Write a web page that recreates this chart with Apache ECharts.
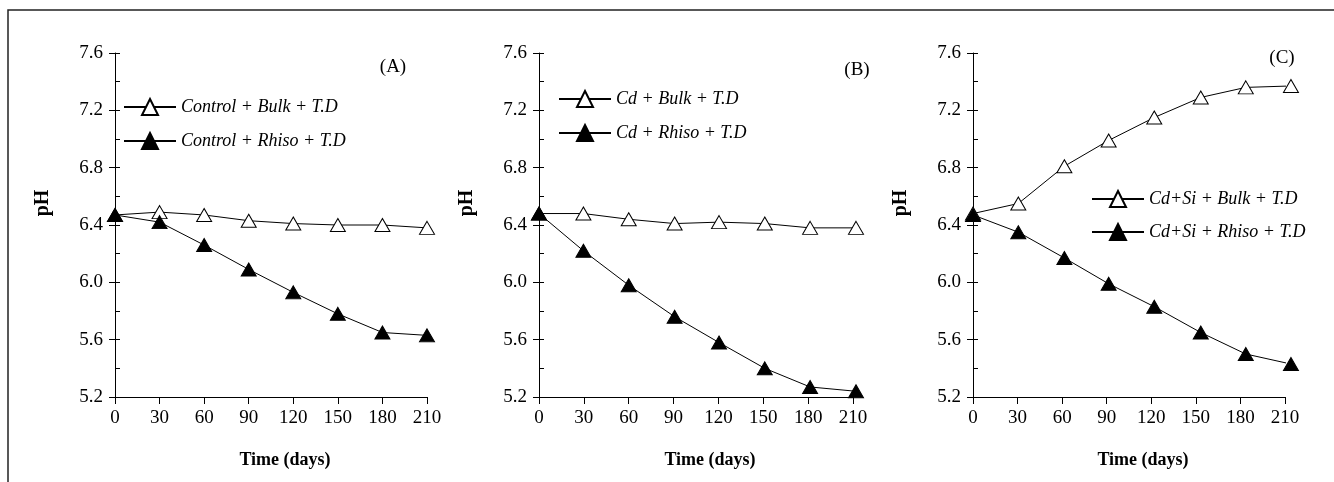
<!DOCTYPE html>
<html>
<head>
<meta charset="utf-8">
<script src="https://cdn.jsdelivr.net/npm/echarts@6/dist/echarts.min.js"></script>
<style>
  html, body { margin: 0; padding: 0; background: #fff; }
  #main { width: 1334px; height: 482px; }
</style>
</head>
<body>
<div id="main"></div>
<script>
// values (pH against time in days)
var daysA = [0, 30, 60, 90, 120, 150, 180, 210];
var bulkA = [6.47, 6.49, 6.47, 6.43, 6.41, 6.40, 6.40, 6.38];
var rhisoA = [6.47, 6.42, 6.26, 6.09, 5.93, 5.78, 5.65, 5.63];

var daysB = [0, 29.7, 60, 90.7, 120.4, 151, 181.3, 212];
var bulkB = [6.48, 6.48, 6.44, 6.41, 6.42, 6.41, 6.38, 6.38];
var rhisoB = [6.48, 6.22, 5.98, 5.76, 5.58, 5.40, 5.27, 5.24];

var daysC = [0, 30.5, 61.5, 91.3, 122, 153.3, 183.6, 214];
var bulkC = [6.48, 6.55, 6.81, 6.99, 7.15, 7.29, 7.36, 7.37];
var rhisoC = [6.47, 6.35, 6.17, 5.99, 5.83, 5.65, 5.50, 5.43];

var namesA = ['Control + Bulk + T.D', 'Control + Rhiso + T.D'];
var namesB = ['Cd + Bulk + T.D', 'Cd + Rhiso + T.D'];
var namesC = ['Cd+Si + Bulk + T.D', 'Cd+Si + Rhiso + T.D'];
var panelLabels = ['(A)', '(B)', '(C)'];

var FONT = '"Liberation Serif", "DejaVu Serif", serif';

function pairs(xs, ys) {
    return xs.map(function (x, i) { return [x, ys[i]]; });
}

var panels = [
    { days: daysA, bulk: bulkA, rhiso: rhisoA, names: namesA,
      grid: { left: 115, top: 53, width: 312, height: 344 },
      legend: { left: 123, top: 98, gap: 16 }, label: [393, 67] },
    { days: daysB, bulk: bulkB, rhiso: rhisoB, names: namesB,
      grid: { left: 539, top: 53, width: 314, height: 344 },
      legend: { left: 558, top: 90, gap: 16 }, label: [857, 70] },
    { days: daysC, bulk: bulkC, rhiso: rhisoC, names: namesC,
      grid: { left: 973, top: 53, width: 312, height: 344 },
      legend: { left: 1091, top: 190, gap: 15 }, label: [1282, 58] }
];

var option = {
    animation: false,
    grid: [], xAxis: [], yAxis: [], legend: [], series: [],
    graphic: [{
        type: 'polyline',
        shape: { points: [[8, 482], [8, 10], [1334, 10]] },
        style: { stroke: '#222', lineWidth: 1.5, fill: null }
    }]
};

panels.forEach(function (p, i) {
    option.grid.push(p.grid);
    option.xAxis.push({
        type: 'value', gridIndex: i, min: 0, max: 210, interval: 30,
        name: 'Time (days)', nameLocation: 'middle', nameGap: 54,
        nameTextStyle: { fontFamily: FONT, fontWeight: 'bold', fontSize: 18, color: '#000', padding: [0, 0, 0, 28] },
        axisLine: { lineStyle: { color: '#000', width: 1 } },
        axisTick: { length: 7, lineStyle: { color: '#000' } },
        axisLabel: { fontFamily: FONT, fontSize: 19, color: '#000', margin: 12 },
        splitLine: { show: false }
    });
    // main y axis with labels, ticks outward
    option.yAxis.push({
        type: 'value', gridIndex: i, position: 'left', min: 5.2, max: 7.6, interval: 0.4,
        name: 'pH', nameLocation: 'middle', nameRotate: 90, nameGap: 62,
        nameTextStyle: { fontFamily: FONT, fontWeight: 'bold', fontSize: 20, color: '#000', padding: [0, 0, 0, 44] },
        axisLine: { lineStyle: { color: '#000', width: 1 } },
        axisTick: { length: 6, lineStyle: { color: '#000' } },
        axisLabel: {
            fontFamily: FONT, fontSize: 19, color: '#000', margin: 12,
            formatter: function (v) { return v.toFixed(1); }
        },
        splitLine: { show: false }
    });
    // second y axis only for the inner 0.2 ticks
    option.yAxis.push({
        type: 'value', gridIndex: i, position: 'left', min: 5.2, max: 7.6, interval: 0.2,
        axisLine: { show: false },
        axisTick: { inside: true, length: 5, lineStyle: { color: '#000' } },
        axisLabel: { show: false },
        splitLine: { show: false }
    });
    option.legend.push({
        left: p.legend.left, top: p.legend.top, orient: 'vertical', padding: 0,
        itemWidth: 52, itemHeight: 20, itemGap: p.legend.gap,
        selectedMode: false, data: p.names,
        textStyle: { fontFamily: FONT, fontStyle: 'italic', fontSize: 18, color: '#000' }
    });
    option.series.push({
        name: p.names[0], type: 'line', xAxisIndex: i, yAxisIndex: 2 * i,
        data: pairs(p.days, p.bulk), clip: false,
        symbol: 'triangle', symbolSize: [15, 13],
        lineStyle: { color: '#000', width: 1 },
        itemStyle: { color: '#fff', borderColor: '#000', borderWidth: 1 }
    });
    option.series.push({
        name: p.names[1], type: 'line', xAxisIndex: i, yAxisIndex: 2 * i,
        data: pairs(p.days, p.rhiso), clip: false,
        symbol: 'triangle', symbolSize: [15, 13],
        lineStyle: { color: '#000', width: 1 },
        itemStyle: { color: '#000', borderColor: '#000', borderWidth: 1 }
    });
    option.graphic.push({
        type: 'text', x: p.label[0], y: p.label[1],
        style: { text: panelLabels[i], font: '19px ' + FONT, fill: '#000', align: 'center', verticalAlign: 'middle' }
    });
});

var myChart = echarts.init(document.getElementById('main'));
myChart.setOption(option);
</script>
</body>
</html>
